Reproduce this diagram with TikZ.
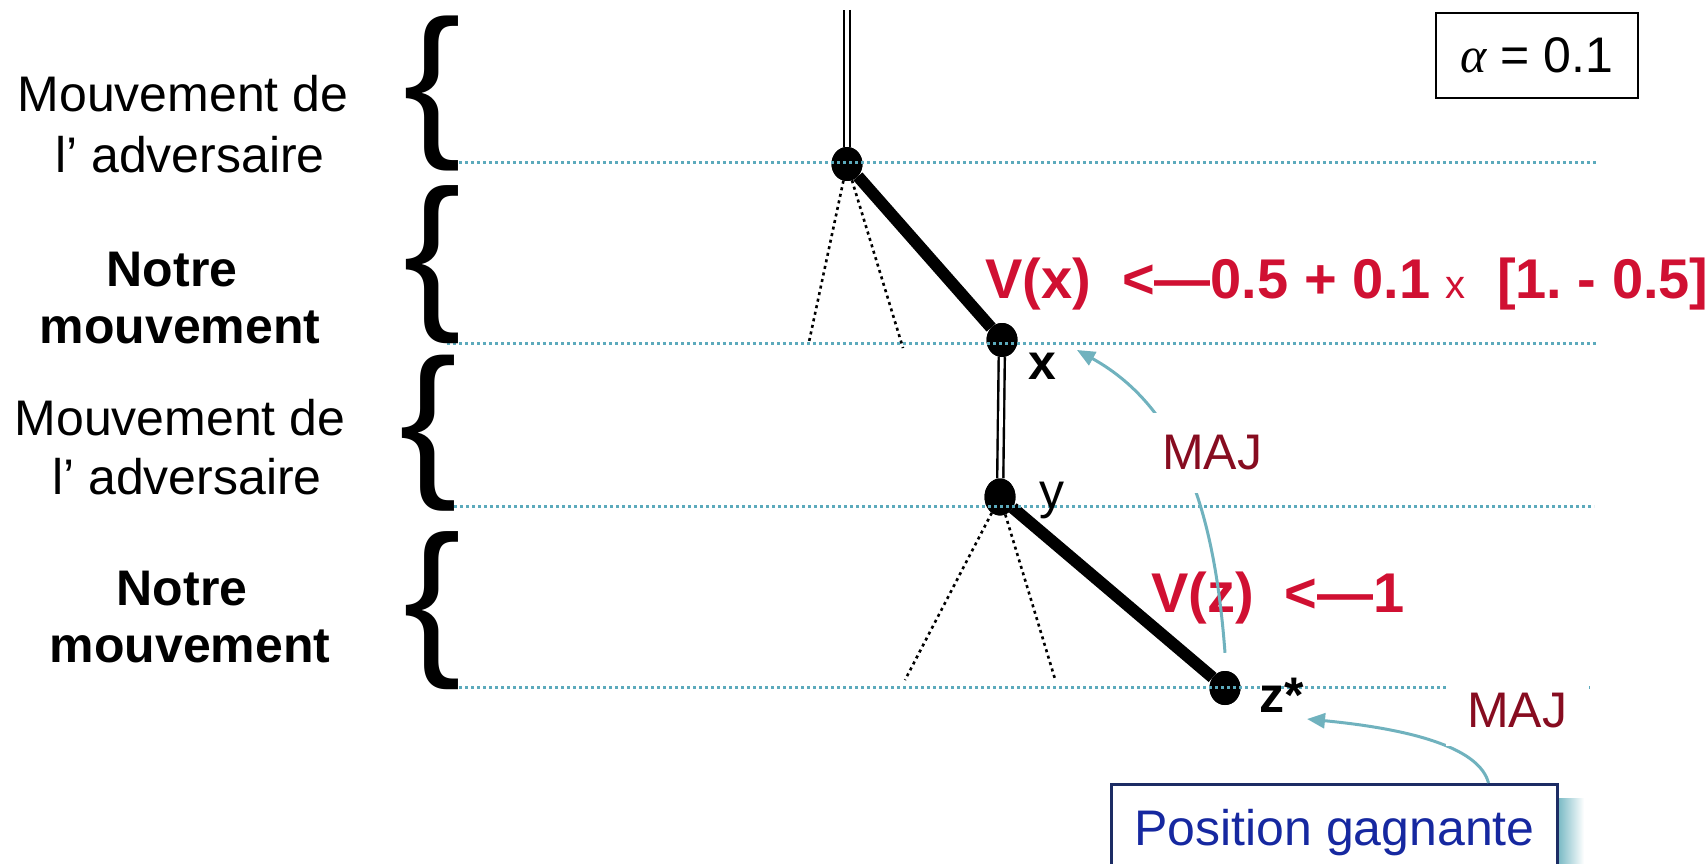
\documentclass[tikz,border=0pt]{standalone}
\usepackage{fontspec}
\usepackage{graphicx}
\setmainfont{Liberation Sans}
\newfontfamily\grk{Liberation Serif}
\usetikzlibrary{arrows.meta,shapes.geometric}
\newcommand\fsz[1]{\fontsize{#1}{#1}\selectfont}
\definecolor{dotc}{RGB}{92,170,188}
\definecolor{arrc}{RGB}{112,178,190}
\definecolor{majc}{RGB}{135,12,32}
\definecolor{redc}{RGB}{208,16,50}
\definecolor{bluec}{RGB}{22,40,160}
\definecolor{navyc}{RGB}{28,44,100}
\definecolor{shadc}{RGB}{110,180,192}
\tikzset{
  tn/.style={ellipse, fill=black, minimum width=31pt, minimum height=34pt, inner sep=0},
  thick edge/.style={line width=12pt},
  dbl edge/.style={line width=2.4pt, double=white, double distance=3.7pt},
  dotbranch/.style={line width=2.6pt, dash pattern=on 3pt off 3.7pt},
  level line/.style={dotc, line width=3pt, dash pattern=on 3pt off 3pt},
  lbl/.style={anchor=base, inner sep=0, font=\fsz{50}},
  blbl/.style={anchor=base, inner sep=0, font=\fsz{50}\bfseries},
  brace/.style={inner sep=0},
  arr/.style={arrc, line width=3pt, -{Triangle[length=18pt,width=15pt]}},
  maj/.style={fill=white, text=majc, font=\fsz{50}, inner sep=0},
  formula/.style={anchor=base west, inner sep=0, text=redc, font=\fsz{56}\bfseries\frenchspacing},
}
\begin{document}
\begin{tikzpicture}[x=1pt,y=-1pt]
\useasboundingbox (0,0) rectangle (1706,864);

% tree nodes
\coordinate (top) at (847,10);
\node[tn] (A) at (847,164) {};
\node[tn] (X) at (1002,340) {};
\node[tn, minimum height=37pt] (Y) at (1000,497) {};
\node[tn] (Z) at (1225,688) {};
\coordinate (a1) at (809,342);
\coordinate (a2) at (903,348);
\coordinate (y1) at (905,680);
\coordinate (y2) at (1055,679);

% tree edges
\draw[dbl edge] (top) -- (A);
\draw[thick edge] (A) -- (X);
\draw[dbl edge] (X) -- (Y);
\draw[thick edge] (Y) -- (Z);
\draw[dotbranch] (A) -- (a1);
\draw[dotbranch] (A) -- (a2);
\draw[dotbranch] (Y) -- (y1);
\draw[dotbranch] (Y) -- (y2);
% redraw nodes on top
\node[tn] at (A) {};
\node[tn] at (X) {};
\node[tn, minimum height=37pt] at (Y) {};
\node[tn] at (Z) {};

% level lines
\draw[level line] (447,163) -- (1597,163);
\draw[level line] (447,343) -- (1597,343);
\draw[level line] (442,506) -- (1594,506);
\draw[level line] (447,687) -- (1591,687);

% braces
\node[brace] (b1) at (432.5,93.5) {\resizebox*{58pt}{155pt}{\{}};
\node[brace] (b2) at (432.5,265) {\resizebox*{58pt}{158pt}{\{}};
\node[brace] (b3) at (428,433) {\resizebox*{58pt}{156pt}{\{}};
\node[brace] (b4) at (432.5,611) {\resizebox*{58pt}{158pt}{\{}};

% left labels
\node[lbl] (m1a) at (183,112) {Mouvement de};
\node[lbl] (m1b) at (190,172) {l’ adversaire};
\node[blbl] (n1a) at (172,286) {Notre};
\node[blbl] (n1b) at (180,343) {mouvement};
\node[lbl] (m2a) at (180,435) {Mouvement de};
\node[lbl] (m2b) at (187,494) {l’ adversaire};
\node[blbl] (n2a) at (182,605) {Notre};
\node[blbl] (n2b) at (190,662) {mouvement};

% node labels
\node[anchor=base west, inner sep=0, font=\fsz{50}\bfseries] (lx) at (1028,379) {x};
\node[anchor=base west, inner sep=0, font=\fsz{50}] (ly) at (1039,508) {y};
\node[anchor=base west, inner sep=0, font=\fsz{50}\bfseries] (lz) at (1259,712) {z*};

% formulas
\node[formula] (vx) at (985,298) {V(x)\ \ <—0.5 + 0.1 {\mdseries\fsz{40}x}\ \ [1. - 0.5]};
\node[formula] (vz) at (1151,612) {V(z)\ \ <—1};

% alpha box
\node[draw, line width=2.5pt, minimum width=202pt, minimum height=85pt, inner sep=0, font=\fsz{50}] (alpha) at (1537,55.5) {{\grk\itshape α} = 0.1};

% update arrows
\coordinate (t1) at (1077,350);
\coordinate (t2) at (1307,719);
\draw[arr] ([yshift=18pt]Z.north) .. controls (1215,520) and (1185,410) .. (t1);
\node[maj, minimum width=144pt, minimum height=80pt] (maj1) at (1212,453) {MAJ};

% position gagnante
\shade[left color=shadc, right color=white] (1556,798) rectangle (1584,864);
\node[draw=navyc, line width=3pt, text=bluec, font=\fsz{50}, anchor=north west, minimum width=446pt, minimum height=96pt, inner sep=0] (pos) at (1110,783) {Position gagnante};
\draw[arr] ([xshift=154pt]pos.north) .. controls (1480,750) and (1420,730) .. (t2);
\node[maj, minimum width=143pt, minimum height=70pt] (maj2) at (1517,711) {MAJ};
\end{tikzpicture}
\end{document}
